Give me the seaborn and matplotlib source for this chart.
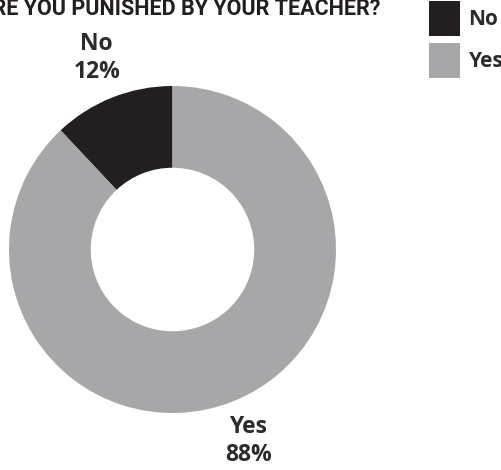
import matplotlib
matplotlib.use("Agg")
import matplotlib.pyplot as plt
import seaborn as sns

categories = ["No", "Yes"]
values = [12, 88]
colors = ["#231f20", "#a7a7a9"]
title = "ARE YOU PUNISHED BY YOUR TEACHER?"

sns.set_theme(style="white")
plt.rcParams["font.family"] = ["Open Sans", "DejaVu Sans"]

W, H = 502, 470
fig = plt.figure(figsize=(W / 100, H / 100), dpi=100)
cx, cy, r = 172.5, 249.5, 163.5
ax = fig.add_axes([(cx - r) / W, (H - cy - r) / H, 2 * r / W, 2 * r / H])

labels = [f"{c}\n{v}%" for c, v in zip(categories, values)]
wedges, texts = ax.pie(values, colors=colors, startangle=90, counterclock=True,
                       labels=labels, labeldistance=1.26,
                       wedgeprops=dict(width=0.5, linewidth=0),
                       textprops=dict(fontsize=16.5, fontweight="bold", color="#2b2b2b",
                                      ha="center", va="center", linespacing=1.25))
for t in texts:
    t.set_clip_on(False)
    t.set_horizontalalignment("center")
ax.set_xlim(-1, 1)
ax.set_ylim(-1, 1)
ax.set_aspect("equal")
ax.axis("off")

fig.text(380 / W, 1 - 15 / H, title, ha="right", va="baseline", fontsize=15.5,
         fontweight="bold", family=["Roboto", "DejaVu Sans"],
         color="#231f20")

leg = fig.legend(wedges, categories, loc="upper left",
                 bbox_to_anchor=(429 / W, 1 - 1 / H), frameon=False,
                 prop=dict(size=15, weight="bold"), handlelength=1.5,
                 handleheight=2.2, labelspacing=0.35, handletextpad=0.4,
                 borderaxespad=0, borderpad=0)
for t in leg.get_texts():
    t.set_color("#2b2b2b")

fig.savefig("out.png", dpi=100)
